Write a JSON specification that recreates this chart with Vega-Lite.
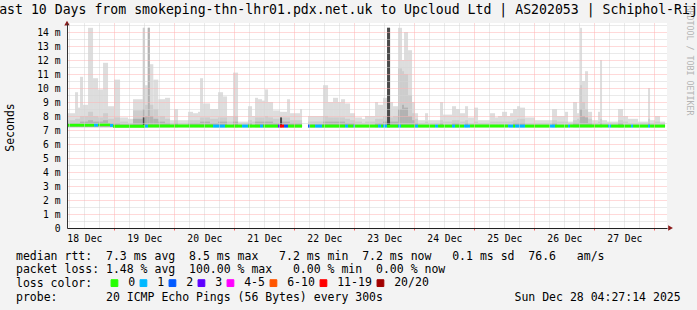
{
 "$schema": "https://vega.github.io/schema/vega-lite/v6.json",
 "width": 600,
 "height": 205,
 "autosize": "none",
 "padding": {"left": 67, "top": 23, "right": 30, "bottom": 82},
 "background": "#f3f3f3",
 "view": {"fill": "#ffffff", "stroke": null},
 "title": {"text": "Last 10 Days from smokeping-thn-lhr01.pdx.net.uk to Upcloud Ltd | AS202053 | Schiphol-Rijk", "frame": "group", "font": "DejaVu Sans Mono", "fontSize": 13.2, "fontWeight": "normal", "color": "#000000", "anchor": "middle", "dx": -18.5, "dy": 21, "baseline": "alphabetic", "offset": -1.3},
 "datasets": {
  "smoke": [
   {"h":5.1,"hi":8.2,"mid":7.7,"lo":7.5},{"h":8.3,"hi":9.7,"mid":7.8,"lo":7.5},{"h":9.5,"hi":8.6,"mid":7.8,"lo":7.5},
   {"h":10.3,"hi":10.8,"mid":8.0,"lo":7.6},{"h":11.5,"hi":8.8,"mid":8.0,"lo":7.6},{"h":13.5,"hi":14.3,"mid":8.3,"lo":7.7},
   {"h":15.5,"hi":10.7,"mid":8.0,"lo":7.6},{"h":17.5,"hi":9.9,"mid":7.9,"lo":7.6},{"h":19.5,"hi":11.8,"mid":8.2,"lo":7.7},
   {"h":21.5,"hi":8.7,"mid":7.8,"lo":7.5},{"h":23.9,"hi":10.6,"mid":7.9,"lo":7.5},{"h":26.3,"hi":7.9,"mid":7.6,"lo":7.4},
   {"h":29.5,"hi":7.8,"mid":7.5,"lo":7.4},{"h":31.5,"hi":9.2,"mid":8.4,"lo":7.8},{"h":35.4,"hi":14.3,"mid":14.3,"lo":8.5,"dk":7.9},
   {"h":36.3,"hi":10.2,"mid":8.8,"lo":8.0},{"h":37.4,"hi":14.3,"mid":14.3,"lo":14.3},{"h":38.2,"hi":11.7,"mid":8.8,"lo":8.0},
   {"h":39.6,"hi":10.6,"mid":8.5,"lo":7.8},{"h":41.6,"hi":9.2,"mid":8.0,"lo":7.6},{"h":44.3,"hi":9.3,"mid":7.8,"lo":7.5},
   {"h":46.3,"hi":7.7,"mid":7.5},{"h":47.9,"hi":8.5,"mid":7.7,"lo":7.5},{"h":49.5,"hi":7.7,"mid":7.5},
   {"h":53.5,"hi":8.3,"mid":7.7,"lo":7.5},{"h":55.5,"hi":8.2,"mid":7.7,"lo":7.5},{"h":57.5,"hi":8.3,"mid":7.7,"lo":7.5},
   {"h":58.3,"hi":10.7,"mid":7.9,"lo":7.6},{"h":59.5,"hi":8.9,"mid":7.9,"lo":7.6},{"h":62.3,"hi":8.5,"mid":7.8,"lo":7.5},
   {"h":65.5,"hi":9.7,"mid":7.9,"lo":7.6},{"h":67.5,"hi":9.4,"mid":7.9,"lo":7.6},{"h":69.1,"hi":8.0,"mid":7.6},
   {"h":71.5,"hi":11.1,"mid":8.0,"lo":7.6},{"h":73.5,"hi":7.6,"mid":7.5},{"h":77.5,"hi":8.7,"mid":7.7,"lo":7.5},
   {"h":79.1,"hi":8.0,"mid":7.6},{"h":80.3,"hi":9.3,"mid":7.9,"lo":7.6},{"h":81.5,"hi":9.2,"mid":7.9,"lo":7.6},
   {"h":83.1,"hi":9.1,"mid":7.9,"lo":7.6},{"h":84.3,"hi":9.9,"mid":8.0,"lo":7.6},{"h":85.5,"hi":9.0,"mid":7.9,"lo":7.6},
   {"h":87.5,"hi":8.4,"mid":7.8,"lo":7.5},{"h":90.3,"hi":8.3,"mid":7.9,"lo":7.6,"dk":7.9},{"h":91.1,"hi":8.3,"mid":7.9,"lo":7.6},
   {"h":93.1,"hi":9.2,"mid":7.9,"lo":7.6},{"h":94.3,"hi":8.2,"mid":7.7,"lo":7.5},{"h":98.3,"hi":8.5,"mid":7.7,"lo":7.5},
   {"h":99.1},
   {"h":101.5,"hi":8.0,"mid":7.6,"lo":7.4},{"h":107.5,"hi":10.2,"mid":8.0,"lo":7.6},{"h":109.5,"hi":9.0,"mid":7.9,"lo":7.6},
   {"h":111.5,"hi":9.3,"mid":7.9,"lo":7.6},{"h":113.5,"hi":9.0,"mid":7.9,"lo":7.6},{"h":114.7,"hi":9.2,"mid":7.9,"lo":7.6},
   {"h":116.3,"hi":8.9,"mid":7.8,"lo":7.5},{"h":118.3,"hi":8.2,"mid":7.7,"lo":7.5},{"h":120.3,"hi":7.9,"mid":7.6},
   {"h":123.1,"hi":7.8,"mid":7.5},{"h":124.3,"hi":8.0,"mid":7.6},{"h":128.3,"hi":9.0,"mid":7.8,"lo":7.5},
   {"h":129.5,"hi":8.8,"mid":7.8,"lo":7.5},{"h":131.5,"hi":9.3,"mid":8.0,"lo":7.6},{"h":133.1,"hi":14.3,"mid":14.3,"lo":14.3,"dk":14.3},
   {"h":134.3,"hi":9.0,"mid":7.9,"lo":7.6},{"h":135.5,"hi":8.7,"mid":8.0,"lo":7.6},{"h":137.5,"hi":14.3,"mid":11.4,"lo":8.5},
   {"h":139.1,"hi":12.0,"mid":11.2,"lo":8.8},{"h":139.9,"hi":14.0,"mid":11.0,"lo":8.6},{"h":141.5,"hi":12.7,"mid":9.5,"lo":8.0},
   {"h":143.1,"hi":9.0,"mid":8.2,"lo":7.7},{"h":144.3,"hi":8.2,"mid":7.8,"lo":7.5},{"h":145.5,"hi":7.7,"mid":7.5},
   {"h":148.3,"hi":8.2,"mid":7.6},{"h":149.5,"hi":7.7,"mid":7.5},{"h":154.3,"hi":9.0,"mid":7.7,"lo":7.5},
   {"h":155.5,"hi":8.1,"mid":7.6},{"h":159.1,"hi":8.7,"mid":7.7,"lo":7.5},{"h":160.7,"hi":8.5,"mid":7.7,"lo":7.5},
   {"h":162.3,"hi":8.2,"mid":7.6},{"h":164.3,"hi":8.7,"mid":7.7,"lo":7.5},{"h":165.5,"hi":7.9,"mid":7.5},
   {"h":167.9,"hi":8.6,"mid":7.6},{"h":169.5,"hi":7.7,"mid":7.5},{"h":174.3,"hi":8.2,"mid":7.6},
   {"h":176.3,"hi":7.9,"mid":7.6},{"h":177.5,"hi":8.0,"mid":7.6},{"h":179.1,"hi":8.3,"mid":7.6},
   {"h":181.1,"hi":8.0,"mid":7.6},{"h":182.3,"hi":8.2,"mid":7.6},{"h":183.5,"hi":8.5,"mid":7.7,"lo":7.5},
   {"h":185.1,"hi":8.7,"mid":7.8,"lo":7.5},{"h":186.3,"hi":8.6,"mid":7.8,"lo":7.5},{"h":188.3,"hi":7.9,"mid":7.5},
   {"h":192.3,"hi":7.7,"mid":7.5},{"h":199.1,"hi":8.5,"mid":7.7,"lo":7.5},{"h":201.1,"hi":8.0,"mid":7.6},
   {"h":204.3,"hi":8.3,"mid":7.6},{"h":205.5,"hi":7.6,"mid":7.5},{"h":207.5,"hi":9.0,"mid":7.7,"lo":7.5},
   {"h":209.1,"hi":8.2,"mid":7.8,"lo":7.5},{"h":209.9,"hi":10.0,"mid":8.5,"lo":7.7},{"h":210.3,"hi":14.3,"mid":10.2,"lo":8.5},
   {"h":211.1,"hi":10.5,"mid":9.0,"lo":8.0},{"h":212.3,"hi":11.2,"mid":8.5,"lo":7.9},{"h":213.5,"hi":8.3,"mid":7.8,"lo":7.5},
   {"h":215.1,"hi":7.7,"mid":7.5},{"h":217.5,"hi":8.3,"mid":7.6},{"h":218.3,"hi":12.0,"mid":7.8,"lo":7.5},
   {"h":219.1,"hi":7.7,"mid":7.5},{"h":221.1,"hi":7.6,"mid":7.5},{"h":225.5,"hi":8.5,"mid":7.7,"lo":7.5},
   {"h":227.5,"hi":8.0,"mid":7.6},{"h":229.5,"hi":7.8,"mid":7.5},{"h":233.5,"hi":7.6,"mid":7.5},
   {"h":237.5,"hi":10.0,"mid":7.8,"lo":7.5},{"h":238.3,"hi":7.7,"mid":7.5},{"h":240.3,"hi":8.0,"mid":7.6},
   {"h":242.3,"hi":7.6,"mid":7.5},{"h":244.3}
  ],
  "median": [
   {"h":5.1,"med":7.35,"loss":"0"},{"h":15.9,"med":7.35,"loss":"1"},{"h":17.5,"med":7.38,"loss":"0"},
   {"h":22.3,"med":7.33,"loss":"1"},{"h":23.5,"med":7.27,"loss":"0"},{"h":36.3,"med":7.28,"loss":"1"},
   {"h":37.5,"med":7.28,"loss":"0"},{"h":63.5,"med":7.28,"loss":"1"},{"h":68.3,"med":7.28,"loss":"0"},
   {"h":75.1,"med":7.28,"loss":"1"},{"h":77.5,"med":7.28,"loss":"0"},{"h":82.3,"med":7.28,"loss":"1"},
   {"h":83.5,"med":7.28,"loss":"0"},{"h":89.5,"med":7.28,"loss":"3"},{"h":90.3,"med":7.28,"loss":"11-19"},
   {"h":91.9,"med":7.28,"loss":"2"},{"h":93.5,"med":7.28,"loss":"0"},{"h":99.1},
   {"h":101.5,"med":7.28,"loss":"2"},{"h":102.3,"med":7.28,"loss":"0"},{"h":104.3,"med":7.28,"loss":"1"},
   {"h":107.1,"med":7.28,"loss":"0"},{"h":116.3,"med":7.28,"loss":"1"},{"h":117.5,"med":7.28,"loss":"0"},
   {"h":119.7,"med":7.28,"loss":"1"},{"h":120.3,"med":7.28,"loss":"0"},{"h":129.5,"med":7.28,"loss":"1"},
   {"h":130.7,"med":7.28,"loss":"0"},{"h":131.5,"med":7.28,"loss":"1"},{"h":133.1,"med":7.28,"loss":"0"},
   {"h":137.5,"med":7.28,"loss":"1"},{"h":138.7,"med":7.28,"loss":"0"},{"h":144.3,"med":7.28,"loss":"1"},
   {"h":145.5,"med":7.28,"loss":"0"},{"h":152.3,"med":7.28,"loss":"1"},{"h":153.5,"med":7.28,"loss":"0"},
   {"h":159.1,"med":7.28,"loss":"1"},{"h":160.3,"med":7.28,"loss":"0"},{"h":163.9,"med":7.28,"loss":"1"},
   {"h":166.3,"med":7.28,"loss":"0"},{"h":181.5,"med":7.28,"loss":"1"},{"h":183.5,"med":7.28,"loss":"0"},
   {"h":184.3,"med":7.28,"loss":"1"},{"h":188.3,"med":7.28,"loss":"0"},{"h":198.3,"med":7.28,"loss":"1"},
   {"h":200.3,"med":7.28,"loss":"0"},{"h":205.5,"med":7.28,"loss":"1"},{"h":206.3,"med":7.28,"loss":"0"},
   {"h":221.5,"med":7.28,"loss":"1"},{"h":222.7,"med":7.28,"loss":"0"},{"h":230.7,"med":7.28,"loss":"1"},
   {"h":231.5,"med":7.28,"loss":"0"},{"h":237.5,"med":7.28,"loss":"1"},{"h":238.3,"med":7.28,"loss":"0"},
   {"h":244.3}
  ]
 },
 "layer": [
  {
   "data": {"name": "smoke"},
   "transform": [{"window": [{"op": "lead", "field": "h", "as": "h2"}], "sort": [{"field": "h"}]}, {"filter": "isValid(datum.h2) && isValid(datum.hi)"}],
   "mark": {"type": "rect", "color": "#dddddd"},
   "encoding": {
    "x": {"field": "h", "type": "quantitative", "scale": {"domain": [5.08, 245.08], "nice": false, "zero": false},
     "axis": {
      "values": [6,12,18,24,30,36,42,48,54,60,66,72,78,84,90,96,102,108,114,120,126,132,138,144,150,156,162,168,174,180,186,192,198,204,210,216,222,228,234,240],
      "grid": true, "gridDash": [1, 1], "gridWidth": 1,
      "gridColor": {"condition": {"test": "datum.value % 24 === 0", "value": "#ffb3b3"}, "value": "#d4d4d4"},
      "ticks": true, "tickSize": 2, "tickWidth": 1,
      "tickColor": {"condition": {"test": "datum.value % 24 === 0", "value": "#ff6060"}, "value": "transparent"},
      "domain": true, "domainColor": "#222222", "domainWidth": 1,
      "labelExpr": "datum.value % 24 === 12 ? (floor(datum.value / 24) + 18) + ' Dec' : ''",
      "labelFont": "DejaVu Sans Mono", "labelFontSize": 9.7, "labelColor": "#000000", "labelAngle": 0,
      "labelBaseline": "alphabetic", "labelPadding": 11, "labelOverlap": false, "labelFlush": false,
      "title": [
       "median rtt:\u00a0\u00a07.3 ms avg\u00a0\u00a08.5 ms max\u00a0\u00a0\u00a07.2 ms min\u00a0\u00a07.2 ms now\u00a0\u00a0\u00a00.1 ms sd\u00a0\u00a076.6\u00a0\u00a0\u00a0am/s",
       "packet loss: 1.48 % avg\u00a0\u00a0100.00 % max\u00a0\u00a0\u00a00.00 % min\u00a0\u00a00.00 % now",
       "loss color:",
       "probe:\u00a0\u00a0\u00a0\u00a0\u00a0\u00a0\u00a020 ICMP Echo Pings (56 Bytes) every 300s\u00a0\u00a0\u00a0\u00a0\u00a0\u00a0\u00a0\u00a0\u00a0\u00a0\u00a0\u00a0\u00a0\u00a0\u00a0\u00a0\u00a0\u00a0\u00a0Sun Dec 28 04:27:14 2025"
      ],
      "titleFont": "DejaVu Sans Mono", "titleFontSize": 11.5, "titleFontWeight": "normal", "titleColor": "#000000",
      "titleAnchor": "start", "titleAlign": "left", "titleBaseline": "alphabetic", "titleX": -51.5, "titleY": 31, "titleLineHeight": 13.9,
      "zindex": 1
     }
    },
    "x2": {"field": "h2"},
    "y": {"field": "hi", "type": "quantitative", "scale": {"domain": [0, 14.643], "nice": false, "zero": false},
     "axis": {
      "values": [0,0.5,1,1.5,2,2.5,3,3.5,4,4.5,5,5.5,6,6.5,7,7.5,8,8.5,9,9.5,10,10.5,11,11.5,12,12.5,13,13.5,14,14.5],
      "grid": true, "gridDash": [1, 1], "gridWidth": 1,
      "gridColor": {"condition": {"test": "datum.value % 1 === 0", "value": "#ffb3b3"}, "value": "#d4d4d4"},
      "ticks": false, "domain": true, "domainColor": "#333333", "domainWidth": 1,
      "labelExpr": "datum.value % 1 !== 0 ? '' : (datum.value === 0 ? '0' : datum.value + ' m')",
      "labelFont": "DejaVu Sans Mono", "labelFontSize": 9.7, "labelColor": "#000000", "labelPadding": 7,
      "labelBaseline": "middle", "labelOverlap": false, "labelFlush": false,
      "title": "Seconds", "titleFont": "DejaVu Sans Mono", "titleFontSize": 11.5, "titleFontWeight": "normal", "titleColor": "#000000",
      "titleAngle": 270, "titleAlign": "center", "titleBaseline": "middle", "titleX": -57, "titleY": 104,
      "zindex": 1
     }
    },
    "y2": {"datum": 7.2}
   }
  },
  {
   "data": {"name": "smoke"},
   "transform": [{"window": [{"op": "lead", "field": "h", "as": "h2"}], "sort": [{"field": "h"}]}, {"filter": "isValid(datum.h2) && isValid(datum.mid)"}],
   "mark": {"type": "rect", "color": "#cdcdcd"},
   "encoding": {
    "x": {"field": "h", "type": "quantitative", "scale": {"domain": [5.08, 245.08], "nice": false, "zero": false}, "axis": null},
    "x2": {"field": "h2"},
    "y": {"field": "mid", "type": "quantitative", "scale": {"domain": [0, 14.643], "nice": false, "zero": false}, "axis": null},
    "y2": {"datum": 7.2}
   }
  },
  {
   "data": {"name": "smoke"},
   "transform": [{"window": [{"op": "lead", "field": "h", "as": "h2"}], "sort": [{"field": "h"}]}, {"filter": "isValid(datum.h2) && isValid(datum.lo)"}],
   "mark": {"type": "rect", "color": "#b2b2b2"},
   "encoding": {
    "x": {"field": "h", "type": "quantitative", "scale": {"domain": [5.08, 245.08], "nice": false, "zero": false}, "axis": null},
    "x2": {"field": "h2"},
    "y": {"field": "lo", "type": "quantitative", "scale": {"domain": [0, 14.643], "nice": false, "zero": false}, "axis": null},
    "y2": {"datum": 7.2}
   }
  },
  {
   "data": {"name": "smoke"},
   "transform": [{"window": [{"op": "lead", "field": "h", "as": "h2"}], "sort": [{"field": "h"}]}, {"filter": "isValid(datum.h2) && isValid(datum.dk)"}],
   "mark": {"type": "rect", "color": "#4a4a4a"},
   "encoding": {
    "x": {"field": "h", "type": "quantitative", "scale": {"domain": [5.08, 245.08], "nice": false, "zero": false}, "axis": null},
    "x2": {"field": "h2"},
    "y": {"field": "dk", "type": "quantitative", "scale": {"domain": [0, 14.643], "nice": false, "zero": false},
     "axis": {"orient": "right", "grid": false, "ticks": false, "labels": false, "domain": false,
      "title": "RRDTOOL / TOBI OETIKER", "titleFont": "DejaVu Sans Mono", "titleFontSize": 8.3, "titleFontWeight": "normal",
      "titleColor": "#b4b4b4", "titleAngle": 90, "titleAlign": "center", "titleBaseline": "middle", "titleX": 21, "titleY": 37}
    },
    "y2": {"datum": 7.2}
   }
  },
  {
   "data": {"name": "median"},
   "transform": [{"window": [{"op": "lead", "field": "h", "as": "h2"}], "sort": [{"field": "h"}]}, {"filter": "isValid(datum.h2) && isValid(datum.med)"}],
   "mark": {"type": "rule", "strokeWidth": 3, "strokeCap": "butt"},
   "encoding": {
    "x": {"field": "h", "type": "quantitative", "scale": {"domain": [5.08, 245.08], "nice": false, "zero": false}, "axis": null},
    "x2": {"field": "h2"},
    "y": {"field": "med", "type": "quantitative", "scale": {"domain": [0, 14.643], "nice": false, "zero": false}, "axis": null},
    "stroke": {"field": "loss", "type": "nominal",
     "scale": {"domain": ["0", "1", "2", "3", "4-5", "6-10", "11-19", "20/20"],
      "range": ["#26ff00", "#00b8ff", "#0059ff", "#5e00ff", "#ff00ff", "#ff5500", "#ff0000", "#a10000"]},
     "legend": {"orient": "none", "legendX": 41.7, "legendY": 254, "direction": "horizontal", "title": null,
      "symbolType": "square", "symbolSize": 46, "symbolStrokeWidth": 1, "symbolOpacity": 1,
      "labelFont": "DejaVu Sans Mono", "labelFontSize": 11.5, "labelColor": "#000000", "labelOffset": 8, "labelLimit": 300,
      "columnPadding": 2,
      "labelExpr": "datum.label === '6-10' ? '6-10\u00a0\u00a0\u00a0\u00a0' : datum.label === '11-19' ? '11-19\u00a0\u00a0' : (datum.label === '20/20' || datum.label === '4-5') ? datum.label : datum.label + '\u00a0\u00a0'",
      "encode": {"symbols": {"update": {"fill": {"scale": "stroke", "field": "value"}, "stroke": {"value": "#000000"}, "strokeWidth": {"value": 1}, "fillOpacity": {"value": 1}}}}
     }
    }
   }
  },
  {
   "data": {"values": [{}]},
   "mark": {"type": "point", "shape": "triangle-up", "filled": true, "size": 30, "color": "#8b1a1a", "opacity": 1},
   "encoding": {
    "x": {"datum": 5.08, "type": "quantitative", "scale": {"domain": [5.08, 245.08], "nice": false, "zero": false}, "axis": null},
    "y": {"datum": 14.64, "type": "quantitative", "scale": {"domain": [0, 14.643], "nice": false, "zero": false}, "axis": null}
   }
  },
  {
   "data": {"values": [{}]},
   "mark": {"type": "point", "shape": "triangle-right", "filled": true, "size": 30, "color": "#8b1a1a", "opacity": 1},
   "encoding": {
    "x": {"datum": 246.5, "type": "quantitative", "scale": {"domain": [5.08, 245.08], "nice": false, "zero": false}, "axis": null},
    "y": {"datum": 0, "type": "quantitative", "scale": {"domain": [0, 14.643], "nice": false, "zero": false}, "axis": null}
   }
  }
 ],
 "resolve": {"axis": {"x": "independent", "y": "independent"}},
 "config": {"font": "DejaVu Sans Mono"}
}
